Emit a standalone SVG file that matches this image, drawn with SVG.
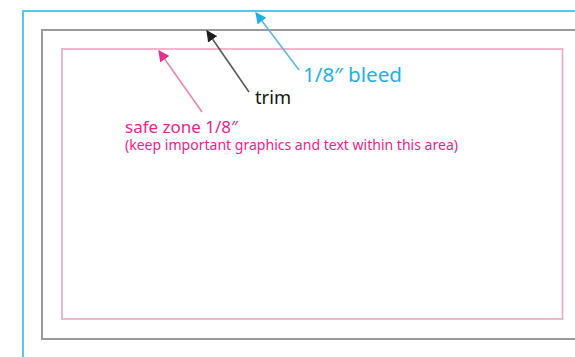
<svg xmlns="http://www.w3.org/2000/svg" width="575" height="357" viewBox="0 0 575 357">
  <style>
    .lbl { font-family: "Noto Sans", "Open Sans", "Liberation Sans", sans-serif; }
    .bleed { fill: none; stroke: #5cc6e6; stroke-width: 2; }
    .trim { fill: none; stroke: #9a9a9a; stroke-width: 2; }
    .safe { fill: none; stroke: #f0a6bf; stroke-width: 1.6; }
  </style>
  <defs>
    <marker id="hPink" viewBox="0 0 10 10" refX="9" refY="5" markerWidth="7" markerHeight="7" orient="auto" markerUnits="strokeWidth">
      <path d="M0,0 L10,5 L0,10 Z" fill="#e6308e"/>
    </marker>
    <marker id="hBlack" viewBox="0 0 10 10" refX="9" refY="5" markerWidth="7" markerHeight="7" orient="auto" markerUnits="strokeWidth">
      <path d="M0,0 L10,5 L0,10 Z" fill="#1e1e1e"/>
    </marker>
    <marker id="hCyan" viewBox="0 0 10 10" refX="9" refY="5" markerWidth="7" markerHeight="7" orient="auto" markerUnits="strokeWidth">
      <path d="M0,0 L10,5 L0,10 Z" fill="#1fb0e6"/>
    </marker>
  </defs>
  <rect x="0" y="0" width="575" height="357" fill="#ffffff"/>
  <g id="bleed-area">
    <rect x="23" y="11" width="600" height="400" fill="#fbfbfd" class="bleed"/>
  </g>
  <g id="trim-area">
    <rect x="42" y="30" width="560" height="309" class="trim"/>
  </g>
  <g id="safe-area">
    <rect x="62" y="49" width="500.5" height="270" class="safe"/>
  </g>
  <g id="connectors">
    <line x1="202" y1="112" x2="159" y2="51" stroke="#e487b3" stroke-width="1.6" marker-end="url(#hPink)"/>
    <line x1="249" y1="92" x2="207" y2="31" stroke="#5a5a5a" stroke-width="1.6" marker-end="url(#hBlack)"/>
    <line x1="299" y1="70" x2="256" y2="13" stroke="#5fb8de" stroke-width="1.6" marker-end="url(#hCyan)"/>
  </g>
  <g id="label-bleed">
    <text class="lbl" x="303" y="82" font-size="19" fill="#1fb0e6" textLength="99" lengthAdjust="spacingAndGlyphs">1/8″ bleed</text>
  </g>
  <g id="label-trim">
    <text class="lbl" x="255" y="104" font-size="18" fill="#111111" textLength="36" lengthAdjust="spacingAndGlyphs">trim</text>
  </g>
  <g id="label-safe">
    <text class="lbl" x="125" y="133" font-size="16.5" fill="#ea1f8d" textLength="113" lengthAdjust="spacingAndGlyphs">safe zone 1/8″</text>
    <text class="lbl" x="125" y="150" font-size="13.5" fill="#ea1f8d" textLength="333" lengthAdjust="spacingAndGlyphs">(keep important graphics and text within this area)</text>
  </g>
</svg>
